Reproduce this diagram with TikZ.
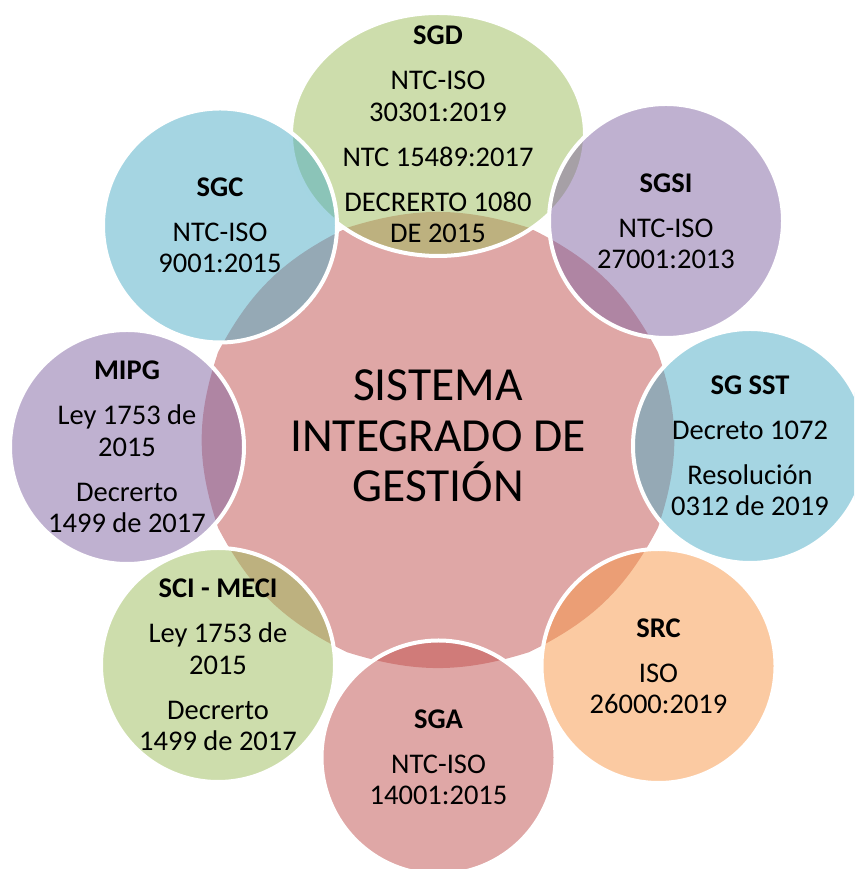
\documentclass[tikz,border=0pt]{standalone}
\usepackage{fontspec}
\setmainfont{Carlito}
\usepackage{tikz}
\usetikzlibrary{shapes.geometric}
\definecolor{redacc}{RGB}{192,80,77}
\definecolor{greenacc}{RGB}{155,187,89}
\definecolor{blueacc}{RGB}{75,172,198}
\definecolor{purpleacc}{RGB}{128,100,162}
\definecolor{orangeacc}{RGB}{247,150,70}
\newcommand{\pgap}{\\[13.7pt]}
\tikzset{
  disc/.style  ={circle, draw=white, line width=4pt, fill opacity=0.5,
                 minimum size=234pt, inner sep=0pt},
  oval/.style  ={ellipse, draw=white, line width=4pt, fill opacity=0.5,
                 minimum width=294pt, minimum height=243pt, inner sep=0pt},
  txt/.style   ={align=center, inner sep=0pt, text=black,
                 font=\fontsize{28.5}{31.3}\selectfont},
  hubtxt/.style={align=center, inner sep=0pt, text=black,
                 font=\fontsize{47.5}{50.5}\selectfont},
}

\begin{document}
\begin{tikzpicture}[x=1pt,y=1pt]
\useasboundingbox (0,0) rectangle (854,869);
\clip (0,0) rectangle (854,869);
\coordinate (hub) at (438,429);
\fill[redacc, fill opacity=0.5, shift={(hub)}, yscale=0.965] (22.5:238)
  \foreach \a in {67.5,112.5,...,382.5} { to[bend right=18] (\a:238) } -- cycle;

\node[oval,fill=greenacc]  (sgd)   at (438,734.5) {};
\node[disc,fill=purpleacc] (sgsi)  at (666,648)   {};
\node[disc,fill=blueacc]   (sgsst) at (750,423)   {};
\node[disc,fill=orangeacc] (src)   at (658.5,203) {};
\node[disc,fill=redacc]    (sga)   at (438.5,111.5) {};
\node[disc,fill=greenacc]  (sci)   at (218,204)   {};
\node[disc,fill=purpleacc] (mipg)  at (127,422)   {};
\node[disc,fill=blueacc]   (sgc)   at (220,643.5) {};

\node[txt] (sgd-t)   at (sgd)   {\textbf{SGD}\pgap NTC-ISO\\30301:2019\pgap NTC 15489:2017\pgap DECRERTO 1080\\DE 2015};
\node[txt] (sgsi-t)  at (sgsi)  {\textbf{SGSI}\pgap NTC-ISO\\27001:2013};
\node[txt] (sgsst-t) at (sgsst) {\textbf{SG SST}\pgap Decreto 1072\pgap Resolución\\0312 de 2019};
\node[txt] (src-t)   at (src)   {\textbf{SRC}\pgap ISO\\26000:2019};
\node[txt] (sga-t)   at (sga)   {\textbf{SGA}\pgap NTC-ISO\\14001:2015};
\node[txt] (sci-t)   at (sci)   {\textbf{SCI - MECI}\pgap Ley 1753 de\\2015\pgap Decrerto\\1499 de 2017};
\node[txt] (mipg-t)  at (mipg)  {\textbf{MIPG}\pgap Ley 1753 de\\2015\pgap Decrerto\\1499 de 2017};
\node[txt] (sgc-t)   at (sgc)   {\textbf{SGC}\pgap NTC-ISO\\9001:2015};

\node[hubtxt] (hub-t) at (438,433) {SISTEMA\\INTEGRADO DE\\GESTIÓN};
\end{tikzpicture}
\end{document}
